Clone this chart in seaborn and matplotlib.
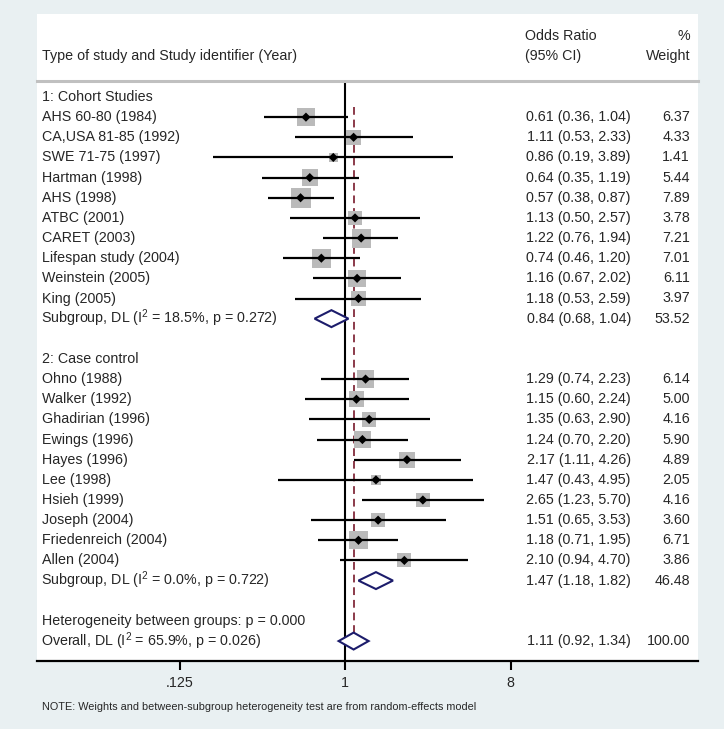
import numpy as np
import pandas as pd
import matplotlib.pyplot as plt
import matplotlib.transforms as mtransforms
from matplotlib.patches import Polygon, Rectangle
import seaborn as sns

# ---- data ----
cohort_labels = ["AHS 60-80 (1984)", "CA,USA 81-85 (1992)", "SWE 71-75 (1997)", "Hartman (1998)",
                 "AHS (1998)", "ATBC (2001)", "CARET (2003)", "Lifespan study (2004)",
                 "Weinstein (2005)", "King (2005)"]
cohort_or = [0.61, 1.11, 0.86, 0.64, 0.57, 1.13, 1.22, 0.74, 1.16, 1.18]
cohort_lo = [0.36, 0.53, 0.19, 0.35, 0.38, 0.50, 0.76, 0.46, 0.67, 0.53]
cohort_hi = [1.04, 2.33, 3.89, 1.19, 0.87, 2.57, 1.94, 1.20, 2.02, 2.59]
cohort_w = [6.37, 4.33, 1.41, 5.44, 7.89, 3.78, 7.21, 7.01, 6.11, 3.97]

case_labels = ["Ohno (1988)", "Walker (1992)", "Ghadirian (1996)", "Ewings (1996)", "Hayes (1996)",
               "Lee (1998)", "Hsieh (1999)", "Joseph (2004)", "Friedenreich (2004)", "Allen (2004)"]
case_or = [1.29, 1.15, 1.35, 1.24, 2.17, 1.47, 2.65, 1.51, 1.18, 2.10]
case_lo = [0.74, 0.60, 0.63, 0.70, 1.11, 0.43, 1.23, 0.65, 0.71, 0.94]
case_hi = [2.23, 2.24, 2.90, 2.20, 4.26, 4.95, 5.70, 3.53, 1.95, 4.70]
case_w = [6.14, 5.00, 4.16, 5.90, 4.89, 2.05, 4.16, 3.60, 6.71, 3.86]

pooled_labels = ["Subgroup, DL (I$^2$ = 18.5%, p = 0.272)",
                 "Subgroup, DL (I$^2$ = 0.0%, p = 0.722)",
                 "Overall, DL (I$^2$ = 65.9%, p = 0.026)"]
pooled_or = [0.84, 1.47, 1.11]
pooled_lo = [0.68, 1.18, 0.92]
pooled_hi = [1.04, 1.82, 1.34]
pooled_w = [53.52, 46.48, 100.00]

group_titles = ["1: Cohort Studies", "2: Case control"]
het_text = "Heterogeneity between groups: p = 0.000"
x_ticks = [0.125, 1, 8]
x_ticklabels = [".125", "1", "8"]

# ---- row layout ----
studies = pd.DataFrame({
    "label": cohort_labels + case_labels,
    "or": cohort_or + case_or,
    "lo": cohort_lo + case_lo,
    "hi": cohort_hi + case_hi,
    "weight": cohort_w + case_w,
    "row": list(range(1, 11)) + list(range(14, 24)),
})
pooled = pd.DataFrame({"label": pooled_labels, "or": pooled_or, "lo": pooled_lo,
                       "hi": pooled_hi, "weight": pooled_w, "row": [11, 24, 27]})

sns.set_theme(style="white")
plt.rcParams["font.family"] = ["Liberation Sans", "DejaVu Sans"]
plt.rcParams["mathtext.fontset"] = "custom"
plt.rcParams["mathtext.rm"] = "Liberation Sans"
plt.rcParams["mathtext.default"] = "regular"

W, H = 724, 729
fig = plt.figure(figsize=(W / 100, H / 100), dpi=100, facecolor="#e9f0f2")
fig.patches.append(Rectangle((37 / W, 1 - 661 / H), (698 - 37) / W, (661 - 14) / H,
                             transform=fig.transFigure, facecolor="white", edgecolor="none", zorder=-1))

ax = fig.add_axes([37 / W, 1 - 661 / H, (698 - 37) / W, (661 - 81) / H])
ax.set_facecolor("none")
ax.set_xscale("log", base=2)
ppu = 55.17
ax.set_xlim(2 ** ((37 - 345.3) / ppu), 2 ** ((698 - 345.3) / ppu))
step = 20.15
ax.set_ylim((661 - 97) / step, (81 - 97) / step)

# reference lines
ax.axvline(1, color="black", lw=1.5, zorder=2)
ax.vlines(pooled_or[2], 0.5, 27.35, colors="#8b3a4a", linestyles=(0, (4, 2.5)), lw=1.4, zorder=2)

# confidence intervals, weight boxes and point estimates
ax.hlines(studies["row"], studies["lo"], studies["hi"], color="black", lw=1.6, zorder=3)
sns.scatterplot(data=studies, x="or", y="row", size="weight",
                sizes=(26 * min(studies["weight"]), 26 * max(studies["weight"])),
                marker="s", color="#bababa", edgecolor="none", legend=False, ax=ax, zorder=2.5)
sns.scatterplot(data=studies, x="or", y="row", marker="D", color="black", s=22,
                edgecolor="none", legend=False, ax=ax, zorder=4)

# pooled diamonds
for _, r in pooled.iterrows():
    h = 0.42
    d = Polygon([(r["lo"], r["row"]), (r["or"], r["row"] - h), (r["hi"], r["row"]), (r["or"], r["row"] + h)],
                closed=True, facecolor="white", edgecolor="#1c1c6b", lw=1.5, zorder=4)
    ax.add_patch(d)

# text columns
tr = mtransforms.blended_transform_factory(ax.transAxes, ax.transData)
x_lab = (42 - 37) / (698 - 37)
x_ci = (631 - 37) / (698 - 37)
x_w = (690 - 37) / (698 - 37)
fs = 10.3
for _, r in pd.concat([studies, pooled]).iterrows():
    xl = x_lab - (1.2 / 661 if "$" in r["label"] else 0)
    ax.text(xl, r["row"], r["label"], transform=tr, va="center", ha="left", fontsize=fs)
    ax.text(x_ci, r["row"], f"{r['or']:.2f} ({r['lo']:.2f}, {r['hi']:.2f})",
            transform=tr, va="center", ha="right", fontsize=fs)
    ax.text(x_w, r["row"], f"{r['weight']:.2f}", transform=tr, va="center", ha="right", fontsize=fs)
ax.text(x_lab, 0, group_titles[0], transform=tr, va="center", ha="left", fontsize=fs)
ax.text(x_lab, 13, group_titles[1], transform=tr, va="center", ha="left", fontsize=fs)
ax.text(x_lab, 26, het_text, transform=tr, va="center", ha="left", fontsize=fs)

# header
fig.text(42 / W, 1 - 56 / H, "Type of study and Study identifier (Year)", va="center", ha="left", fontsize=fs)
fig.text(525 / W, 1 - 36 / H, "Odds Ratio", va="center", ha="left", fontsize=fs)
fig.text(525 / W, 1 - 56 / H, "(95% CI)", va="center", ha="left", fontsize=fs)
fig.text(690 / W, 1 - 36 / H, "%", va="center", ha="right", fontsize=fs)
fig.text(690 / W, 1 - 56 / H, "Weight", va="center", ha="right", fontsize=fs)

# axes styling
for side in ["left", "right"]:
    ax.spines[side].set_visible(False)
ax.spines["bottom"].set_color("black")
ax.spines["bottom"].set_linewidth(1.6)
ax.spines["top"].set_color("#c0c0c0")
ax.spines["top"].set_linewidth(2.2)
ax.set_yticks([])
ax.set_xticks(x_ticks)
ax.set_xticklabels(x_ticklabels)
ax.xaxis.set_minor_locator(plt.NullLocator())
ax.tick_params(axis="x", direction="out", length=6.5, width=1.5, color="black",
               pad=4, labelsize=fs, bottom=True)
ax.set_xlabel("")
ax.set_ylabel("")

fig.text(42 / W, 1 - 707 / H, "NOTE: Weights and between-subgroup heterogeneity test are from random-effects model",
         va="center", ha="left", fontsize=7.8)

fig.savefig("out.png", dpi=100, facecolor=fig.get_facecolor())
